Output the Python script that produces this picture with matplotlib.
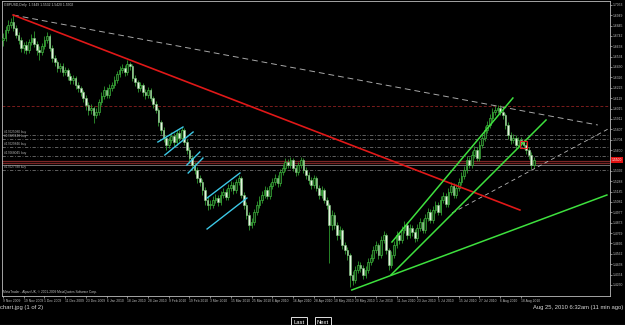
import numpy as np
import matplotlib
matplotlib.use("Agg")
import matplotlib.pyplot as plt
from matplotlib.patches import Rectangle
from matplotlib.lines import Line2D

plt.rcParams['font.family'] = ['Liberation Sans', 'DejaVu Sans']

# GBPUSD daily bars, 9 Nov 2009 .. 25 Aug 2010
first_open = 1.670
closes = [1.672, 1.680, 1.685, 1.688, 1.682, 1.675, 1.670, 1.662, 1.665, 1.660, 1.668, 1.672, 1.666, 1.660, 1.658, 1.664, 1.670, 1.674,
          1.662, 1.652, 1.648, 1.642, 1.644, 1.638, 1.640, 1.634,
          1.630, 1.632, 1.625, 1.622, 1.618,
          1.612, 1.605, 1.600, 1.602, 1.595, 1.598,
          1.608, 1.614, 1.620, 1.615, 1.622,
          1.625, 1.630,
          1.636, 1.640, 1.642, 1.638, 1.646, 1.644,
          1.632, 1.628, 1.622, 1.625, 1.618, 1.615, 1.620,
          1.612, 1.606, 1.600,
          1.588, 1.580, 1.572,
          1.565, 1.570, 1.574, 1.568, 1.577, 1.572, 1.580, 1.568, 1.560,
          1.552, 1.545, 1.540, 1.532, 1.528,
          1.520, 1.510, 1.505,
          1.505, 1.510, 1.512, 1.508, 1.515, 1.518, 1.513, 1.522, 1.525, 1.520, 1.528, 1.532,
          1.515, 1.505, 1.495, 1.485, 1.488, 1.498,
          1.505, 1.510, 1.515, 1.520, 1.514, 1.524, 1.528, 1.532, 1.527, 1.538, 1.542,
          1.548, 1.545, 1.550, 1.542,
          1.538, 1.545, 1.550, 1.540, 1.535, 1.530,
          1.525, 1.532, 1.522, 1.515, 1.520, 1.510, 1.505,
          1.485, 1.495,
          1.485, 1.475, 1.480, 1.465, 1.460, 1.455,
          1.435, 1.430, 1.440, 1.445,
          1.442, 1.435, 1.440, 1.448, 1.452,
          1.460, 1.465, 1.455, 1.470, 1.475, 1.460,
          1.445, 1.455, 1.465, 1.475, 1.470, 1.480, 1.485, 1.475, 1.482,
          1.478, 1.472, 1.482, 1.488, 1.480, 1.492, 1.498, 1.490, 1.500, 1.505, 1.498, 1.510, 1.514, 1.506, 1.518, 1.524, 1.515, 1.522,
          1.528, 1.534, 1.540, 1.550, 1.545, 1.555, 1.560, 1.552, 1.565, 1.572, 1.580, 1.585, 1.592, 1.598, 1.600,
          1.602, 1.598, 1.595, 1.585,
          1.575, 1.570, 1.572, 1.565, 1.570, 1.568,
          1.565, 1.560, 1.555, 1.545, 1.550]
highs = [1.677, 1.684, 1.690, 1.692, 1.695, 1.685, 1.678, 1.673, 1.668, 1.669, 1.671, 1.676, 1.679, 1.669, 1.664, 1.667, 1.674, 1.678,
         1.676, 1.665, 1.655, 1.650, 1.647, 1.647, 1.643, 1.642,
         1.637, 1.635, 1.634, 1.628, 1.624,
         1.620, 1.615, 1.608, 1.606, 1.604, 1.602,
         1.611, 1.618, 1.624, 1.623, 1.626,
         1.628, 1.634,
         1.639, 1.644, 1.646, 1.645, 1.650, 1.648,
         1.646, 1.635, 1.630, 1.628, 1.627, 1.621, 1.623,
         1.622, 1.614, 1.609,
         1.602, 1.590, 1.583,
         1.575, 1.573, 1.578, 1.577, 1.580, 1.580, 1.583, 1.582, 1.571,
         1.563, 1.555, 1.548, 1.543, 1.535,
         1.531, 1.523, 1.514,
         1.510, 1.514, 1.516, 1.515, 1.519, 1.522, 1.521, 1.526, 1.529, 1.528, 1.531, 1.535,
         1.534, 1.518, 1.508, 1.498, 1.492, 1.501,
         1.509, 1.514, 1.519, 1.524, 1.523, 1.527, 1.532, 1.536, 1.535, 1.541, 1.546,
         1.552, 1.551, 1.553, 1.552,
         1.545, 1.548, 1.553, 1.552, 1.543, 1.538,
         1.533, 1.535, 1.534, 1.525, 1.524, 1.522, 1.513,
         1.507, 1.500,
         1.498, 1.488, 1.484, 1.482, 1.468, 1.463,
         1.457, 1.439, 1.444, 1.449,
         1.448, 1.445, 1.444, 1.452, 1.456,
         1.464, 1.469, 1.467, 1.474, 1.479, 1.477,
         1.462, 1.459, 1.469, 1.479, 1.478, 1.484, 1.489, 1.488, 1.486,
         1.485, 1.481, 1.486, 1.492, 1.491, 1.496, 1.502, 1.501, 1.504, 1.509, 1.508, 1.514, 1.518, 1.517, 1.522, 1.528, 1.527, 1.526,
         1.532, 1.538, 1.544, 1.554, 1.553, 1.559, 1.564, 1.563, 1.569, 1.576, 1.584, 1.589, 1.596, 1.602, 1.604,
         1.605, 1.605, 1.603, 1.597,
         1.588, 1.578, 1.576, 1.575, 1.573, 1.573,
         1.571, 1.568, 1.563, 1.558, 1.553]
lows = [1.664, 1.669, 1.677, 1.682, 1.679, 1.672, 1.666, 1.658, 1.657, 1.656, 1.657, 1.665, 1.663, 1.655, 1.650, 1.655, 1.661, 1.667,
        1.659, 1.648, 1.644, 1.638, 1.638, 1.634, 1.635, 1.630,
        1.626, 1.626, 1.621, 1.618, 1.614,
        1.608, 1.600, 1.595, 1.596, 1.587, 1.592,
        1.595, 1.605, 1.611, 1.612, 1.612,
        1.619, 1.622,
        1.627, 1.633, 1.637, 1.634, 1.635, 1.640,
        1.629, 1.624, 1.618, 1.619, 1.614, 1.611, 1.612,
        1.609, 1.602, 1.597,
        1.584, 1.576, 1.568,
        1.560, 1.562, 1.567, 1.564, 1.565, 1.569, 1.569, 1.565, 1.556,
        1.548, 1.540, 1.536, 1.527, 1.524,
        1.515, 1.505, 1.500,
        1.501, 1.502, 1.507, 1.504, 1.505, 1.512, 1.510, 1.510, 1.519, 1.516, 1.517, 1.525,
        1.512, 1.501, 1.491, 1.480, 1.482, 1.485,
        1.495, 1.502, 1.507, 1.512, 1.511, 1.511, 1.521, 1.525, 1.523, 1.524, 1.535,
        1.539, 1.542, 1.542, 1.539,
        1.534, 1.535, 1.542, 1.537, 1.531, 1.526,
        1.521, 1.522, 1.519, 1.511, 1.512, 1.507, 1.501,
        1.447, 1.480,
        1.481, 1.470, 1.471, 1.461, 1.456, 1.450,
        1.423, 1.425, 1.427, 1.437,
        1.438, 1.431, 1.432, 1.437, 1.445,
        1.449, 1.457, 1.451, 1.452, 1.467, 1.456,
        1.440, 1.442, 1.452, 1.462, 1.466, 1.467, 1.477, 1.471, 1.472,
        1.474, 1.468, 1.469, 1.479, 1.477, 1.477, 1.489, 1.487, 1.487, 1.497, 1.495, 1.495, 1.507, 1.503, 1.503, 1.515, 1.512, 1.512,
        1.519, 1.525, 1.531, 1.537, 1.542, 1.542, 1.552, 1.549, 1.549, 1.562, 1.569, 1.577, 1.582, 1.589, 1.595,
        1.597, 1.595, 1.591, 1.581,
        1.571, 1.566, 1.567, 1.561, 1.562, 1.564,
        1.561, 1.556, 1.551, 1.541, 1.542]

date_labels = ["9 Nov 2009", "19 Nov 2009", "1 Dec 2009", "11 Dec 2009", "23 Dec 2009", "6 Jan 2010",
               "18 Jan 2010", "28 Jan 2010", "9 Feb 2010", "19 Feb 2010", "3 Mar 2010", "15 Mar 2010",
               "25 Mar 2010", "6 Apr 2010", "16 Apr 2010", "28 Apr 2010", "10 May 2010", "20 May 2010",
               "1 Jun 2010", "11 Jun 2010", "23 Jun 2010", "5 Jul 2010", "15 Jul 2010", "27 Jul 2010",
               "6 Aug 2010", "18 Aug 2010"]
date_step = 8  # bars between date labels

price_ticks = [1.7053, 1.6949, 1.6845, 1.6742, 1.6638, 1.6534, 1.6430, 1.6326, 1.6223, 1.6119,
               1.6015, 1.5911, 1.5807, 1.5704, 1.5600, 1.5496, 1.5392, 1.5288, 1.5185, 1.5081,
               1.4977, 1.4873, 1.4769, 1.4666, 1.4562, 1.4458, 1.4354, 1.4250]

# trend lines drawn on the chart: (bar1, price1, bar2, price2)
red_line = (3.9, 1.695, 199.6, 1.500)
grey_dash = (3.9, 1.695, 229.7, 1.585)
green_lines = [(134.7, 1.420, 233.2, 1.515),
               (149.8, 1.435, 209.7, 1.590),
               (150.2, 1.468, 196.9, 1.612)]
cyan_lines = [(59.8, 1.568, 69.5, 1.583),
              (62.5, 1.555, 73.4, 1.578),
              (71.0, 1.545, 76.0, 1.558),
              (71.5, 1.537, 77.2, 1.552),
              (78.8, 1.512, 91.5, 1.537),
              (78.8, 1.481, 94.2, 1.512)]
white_dash = (173.4, 1.497, 235.1, 1.583)

# horizontal levels
order_levels = [1.575, 1.571, 1.563, 1.554, 1.540]
order_labels = ["#17025080 buy", "#17029440 buy", "#17029846 buy", "#17068045 buy", "#17027788 buy"]
resist_level = 1.604
bid_ask = [1.549, 1.5467]
last_line = 1.545

fig = plt.figure(figsize=(6.25, 3.25), dpi=100, facecolor='black')
ax = fig.add_axes([2 / 625, 29 / 325, 608 / 625, 295 / 325], facecolor='black')

x = np.arange(len(closes))
c = np.array(closes)
o = np.array([first_open] + closes[:-1])
h = np.array(highs)
l = np.array(lows)

ax.vlines(x, l, h, color='#2e9a2e', lw=0.6, zorder=2)
up = c >= o
body = np.maximum(np.abs(c - o), 0.0008)
ax.bar(x[up], body[up], bottom=np.minimum(o, c)[up], width=0.65,
       color='#0d2e0d', edgecolor='#3fb53f', linewidth=0.5, zorder=3)
ax.bar(x[~up], body[~up], bottom=np.minimum(o, c)[~up], width=0.65,
       color='#e6f5e0', edgecolor='#7fc47f', linewidth=0.4, zorder=3)

# horizontal levels
ax.axhline(resist_level, color='#7a1c1c', lw=0.7, ls=(0, (3, 2)), zorder=1)
for lv in order_levels:
    ax.axhline(lv, color='#6e6e6e', lw=0.6, ls=(0, (4, 2, 1, 2)), zorder=1)
for lv in bid_ask:
    ax.axhline(lv, color='#7a2626', lw=0.9, zorder=1)
ax.axhline(last_line, color='#9a9a9a', lw=0.5, zorder=1)
for lv, lab in zip(order_levels, order_labels):
    ax.text(0.5, lv + 0.0006, lab, color='#b0b0b0', fontsize=2.3, va='bottom', ha='left')

# trend lines
ax.plot(red_line[0::2], red_line[1::2], color='#e01818', lw=1.2, zorder=5)
ax.plot(grey_dash[0::2], grey_dash[1::2], color='#a8a8a8', lw=0.7, ls=(0, (6, 4)), zorder=4)
ax.plot(white_dash[0::2], white_dash[1::2], color='#b8b8b8', lw=0.6, ls=(0, (5, 4)), zorder=4)
for ln in green_lines:
    ax.plot(ln[0::2], ln[1::2], color='#3ee03e', lw=1.1, zorder=5)
for ln in cyan_lines:
    ax.plot(ln[0::2], ln[1::2], color='#3cc8e6', lw=1.0, zorder=5)
ax.add_patch(Rectangle((199.6, 1.562), 2.7, 0.007, fill=False, ec='#e02020', lw=0.8, zorder=6))

ax.set_xlim(-0.39, 234.4)
ax.set_ylim(1.414, 1.709)

for s in ax.spines.values():
    s.set_color('#bdbdbd')
    s.set_linewidth(0.6)

ax.yaxis.tick_right()
ax.set_yticks(price_ticks)
ax.set_yticklabels([f"{p:.4f}" for p in price_ticks])
ax.tick_params(axis='y', colors='#bdbdbd', labelsize=2.4, length=1.2, width=0.5, pad=0.6)
ax.set_xticks(np.arange(len(date_labels)) * date_step)
ax.set_xticklabels(date_labels, ha='left')
ax.tick_params(axis='x', colors='#bdbdbd', labelsize=2.4, length=1.2, width=0.5, pad=0.8)

# current price tag on the scale
ax.annotate(f"{closes[-1]:.4f}", xy=(1.0, closes[-1]), xycoords=('axes fraction', 'data'),
            xytext=(1.2, 0), textcoords='offset points', fontsize=2.4, color='white', va='center',
            bbox=dict(boxstyle='square,pad=0.25', fc='#e01010', ec='none'), annotation_clip=False)

ax.text(0.004, 0.992, "GBPUSD,Daily  1.5449 1.5532 1.5420 1.5502", transform=ax.transAxes,
        color='#c8c8c8', fontsize=2.4, va='top', ha='left')
ax.text(0.002, 0.008, "MetaTrader - Alpari UK, \u00a9 2001-2009 MetaQuotes Software Corp.", transform=ax.transAxes,
        color='#c8c8c8', fontsize=2.3, va='bottom', ha='left')

fig.text(0.0, 1 - 308 / 325, "chart.jpg (1 of 2)", color='#d8d8d8', fontsize=4.2, va='center', ha='left')
fig.text(623 / 625, 1 - 308 / 325, "Aug 25, 2010 6:32am (11 min ago)", color='#d8d8d8', fontsize=4.2,
         va='center', ha='right')
fig.add_artist(Line2D([0, 1], [1 - 324.5 / 325] * 2, transform=fig.transFigure, color='#8a8a8a', lw=0.8))
for lab, cx in [("Last", 299), ("Next", 323)]:
    fig.text(cx / 625, 1 - 322 / 325, lab, color='white', fontsize=4.2, va='center', ha='center',
             bbox=dict(boxstyle='square,pad=0.4', fc='black', ec='#e0e0e0', lw=0.7))

fig.savefig("out.png", dpi=100, facecolor='black')
